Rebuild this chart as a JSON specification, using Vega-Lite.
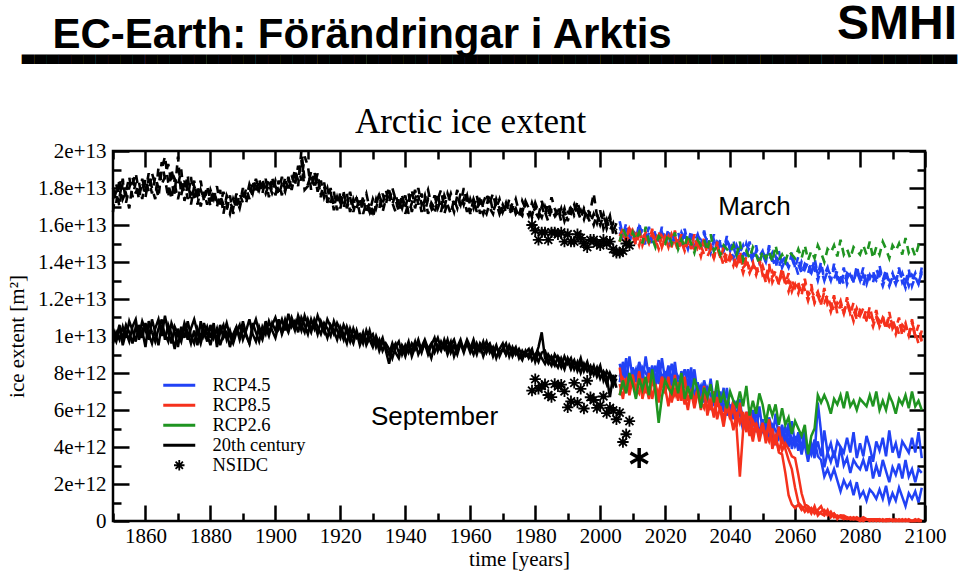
{
"$schema":"https://vega.github.io/schema/vega-lite/v6.json",
"width":812,"height":370,
"autosize":"none",
"padding":{"left":113,"top":151,"right":35,"bottom":51},
"background":"white",
"title":{"text":"SMHI","subtitle":"▄▄▄▄▄▄▄▄▄▄▄▄▄▄▄▄▄▄▄▄▄▄▄▄▄▄▄▄▄▄▄▄▄▄▄▄▄▄▄▄▄▄▄▄▄▄▄▄▄▄▄▄▄▄▄▄▄▄▄▄▄▄▄▄▄▄▄▄▄▄▄▄▄▄▄▄","anchor":"end","frame":"group","dx":32,"offset":-50,"font":"Liberation Sans","fontSize":48,"fontWeight":"bold","color":"black","subtitleFont":"DejaVu Sans","subtitleFontSize":16,"subtitleColor":"black","subtitlePadding":-2},
"datasets":{
"keys":[
{"k":"S1","sc":"20th century","mo":"Sep"},{"k":"S2","sc":"20th century","mo":"Sep"},{"k":"S3","sc":"20th century","mo":"Sep"},
{"k":"M1","sc":"20th century","mo":"Mar"},{"k":"M2","sc":"20th century","mo":"Mar"},{"k":"M3","sc":"20th century","mo":"Mar"},
{"k":"B1","sc":"RCP4.5","mo":"Sep"},{"k":"B2","sc":"RCP4.5","mo":"Sep"},{"k":"B3","sc":"RCP4.5","mo":"Sep"},
{"k":"R1","sc":"RCP8.5","mo":"Sep"},{"k":"R2","sc":"RCP8.5","mo":"Sep"},{"k":"R3","sc":"RCP8.5","mo":"Sep"},
{"k":"G","sc":"RCP2.6","mo":"Sep"},
{"k":"b1","sc":"RCP4.5","mo":"Mar"},{"k":"b2","sc":"RCP4.5","mo":"Mar"},{"k":"b3","sc":"RCP4.5","mo":"Mar"},
{"k":"r1","sc":"RCP8.5","mo":"Mar"},{"k":"r2","sc":"RCP8.5","mo":"Mar"},{"k":"r3","sc":"RCP8.5","mo":"Mar"},
{"k":"g","sc":"RCP2.6","mo":"Mar"}],
"notes":[{"t":2047.5,"v":17.0,"label":"March"},{"t":1949,"v":5.6,"label":"September"}],
"nsidc":[
{"t":1979,"S":7.05,"M":16.0},{"t":1980,"S":7.67,"M":15.7},{"t":1981,"S":7.14,"M":15.2},{"t":1982,"S":7.3,"M":15.6},{"t":1983,"S":7.39,"M":15.6},{"t":1984,"S":6.81,"M":15.2},{"t":1985,"S":6.7,"M":15.6},{"t":1986,"S":7.41,"M":15.6},{"t":1987,"S":7.28,"M":15.5},{"t":1988,"S":7.37,"M":15.6},{"t":1989,"S":7.01,"M":15.1},{"t":1990,"S":6.14,"M":15.5},{"t":1991,"S":6.47,"M":15.1},{"t":1992,"S":7.47,"M":15.1},{"t":1993,"S":6.4,"M":15.5},{"t":1994,"S":7.14,"M":15.3},{"t":1995,"S":6.08,"M":15.0},{"t":1996,"S":7.58,"M":14.8},{"t":1997,"S":6.69,"M":15.2},{"t":1998,"S":6.54,"M":15.2},{"t":1999,"S":6.12,"M":15.0},{"t":2000,"S":6.25,"M":14.9},{"t":2001,"S":6.73,"M":15.2},{"t":2002,"S":5.83,"M":15.0},{"t":2003,"S":6.12,"M":15.1},{"t":2004,"S":5.98,"M":14.7},{"t":2005,"S":5.5,"M":14.5},{"t":2006,"S":5.86,"M":14.5},{"t":2007,"S":4.27,"M":14.6},{"t":2008,"S":4.69,"M":15.0},{"t":2009,"S":5.4,"M":14.9},{"t":2012,"S":3.4}],
"ice":[
{"t":1850,"S1":10.1,"S2":9.6,"S3":10.4,"M1":16.7,"M2":18.0,"M3":17.4},
{"t":1851,"S1":9.7,"S2":10.2,"S3":9.9,"M1":18.2,"M2":17.2,"M3":17.8},
{"t":1852,"S1":10.4,"S2":9.8,"S3":10.6,"M1":17.5,"M2":18.5,"M3":17.0},
{"t":1853,"S1":9.9,"S2":10.5,"S3":9.5,"M1":18.5,"M2":17.4,"M3":18.3},
{"t":1854,"S1":10.6,"S2":9.9,"S3":10.2,"M1":17.2,"M2":17.8,"M3":17.7},
{"t":1855,"S1":10.2,"S2":10.8,"S3":9.7,"M1":18.0,"M2":18.6,"M3":16.9},
{"t":1856,"S1":9.6,"S2":10.3,"S3":10.5,"M1":18.6,"M2":17.5,"M3":18.2},
{"t":1857,"S1":10.5,"S2":9.7,"S3":10.9,"M1":17.7,"M2":18.3,"M3":18.8},
{"t":1858,"S1":10.0,"S2":10.6,"S3":9.8,"M1":18.3,"M2":17.4,"M3":17.8},
{"t":1859,"S1":10.8,"S2":9.9,"S3":10.3,"M1":17.4,"M2":18.5,"M3":18.3},
{"t":1860,"S1":10.3,"S2":10.7,"S3":9.4,"M1":18.5,"M2":17.8,"M3":17.5},
{"t":1861,"S1":9.8,"S2":10.1,"S3":10.8,"M1":17.8,"M2":18.8,"M3":18.5},
{"t":1862,"S1":10.9,"S2":9.6,"S3":10.2,"M1":18.8,"M2":18.0,"M3":17.7},
{"t":1863,"S1":10.2,"S2":10.4,"S3":9.7,"M1":18.2,"M2":17.4,"M3":18.6},
{"t":1864,"S1":9.5,"S2":10.9,"S3":10.4,"M1":17.5,"M2":19.1,"M3":18.0},
{"t":1865,"S1":10.6,"S2":10.0,"S3":10.9,"M1":19.0,"M2":18.2,"M3":19.4},
{"t":1866,"S1":10.1,"S2":11.1,"S3":9.8,"M1":19.7,"M2":18.6,"M3":18.5},
{"t":1867,"S1":9.7,"S2":10.2,"S3":10.6,"M1":18.3,"M2":19.3,"M3":17.5},
{"t":1868,"S1":10.7,"S2":9.6,"S3":10.1,"M1":17.4,"M2":18.3,"M3":19.0},
{"t":1869,"S1":10.2,"S2":10.5,"S3":9.3,"M1":18.5,"M2":17.7,"M3":18.2},
{"t":1870,"S1":9.4,"S2":10.1,"S3":10.4,"M1":18.1,"M2":19.7,"M3":17.4},
{"t":1871,"S1":10.5,"S2":9.7,"S3":9.9,"M1":19.0,"M2":17.6,"M3":18.2},
{"t":1872,"S1":9.9,"S2":10.6,"S3":10.7,"M1":17.3,"M2":18.4,"M3":17.8},
{"t":1873,"S1":10.8,"S2":9.8,"S3":10.2,"M1":18.2,"M2":17.4,"M3":18.7},
{"t":1874,"S1":10.0,"S2":10.4,"S3":9.6,"M1":17.6,"M2":18.6,"M3":17.1},
{"t":1875,"S1":9.6,"S2":10.9,"S3":10.3,"M1":18.4,"M2":17.3,"M3":18.1},
{"t":1876,"S1":10.4,"S2":10.2,"S3":9.5,"M1":17.1,"M2":18.1,"M3":17.6},
{"t":1877,"S1":9.9,"S2":9.6,"S3":10.8,"M1":17.9,"M2":17.0,"M3":18.4},
{"t":1878,"S1":10.7,"S2":10.3,"S3":10.0,"M1":17.4,"M2":17.8,"M3":17.3},
{"t":1879,"S1":10.1,"S2":9.7,"S3":10.5,"M1":18.1,"M2":17.1,"M3":17.9},
{"t":1880,"S1":9.5,"S2":10.6,"S3":9.9,"M1":17.3,"M2":17.9,"M3":17.0},
{"t":1881,"S1":10.3,"S2":9.9,"S3":10.7,"M1":17.9,"M2":17.4,"M3":17.8},
{"t":1882,"S1":9.8,"S2":10.4,"S3":9.4,"M1":17.0,"M2":18.1,"M3":17.3},
{"t":1883,"S1":10.6,"S2":9.5,"S3":10.2,"M1":17.6,"M2":17.1,"M3":17.9},
{"t":1884,"S1":9.9,"S2":10.1,"S3":10.6,"M1":17.1,"M2":17.8,"M3":16.6},
{"t":1885,"S1":10.2,"S2":10.7,"S3":9.8,"M1":16.8,"M2":17.1,"M3":17.6},
{"t":1886,"S1":9.4,"S2":10.0,"S3":10.3,"M1":17.6,"M2":16.6,"M3":17.2},
{"t":1887,"S1":10.1,"S2":9.6,"S3":9.7,"M1":16.6,"M2":17.4,"M3":16.9},
{"t":1888,"S1":10.5,"S2":10.2,"S3":10.5,"M1":17.4,"M2":16.9,"M3":17.7},
{"t":1889,"S1":9.8,"S2":10.6,"S3":9.9,"M1":16.9,"M2":17.7,"M3":17.1},
{"t":1890,"S1":10.4,"S2":9.8,"S3":10.8,"M1":17.7,"M2":17.2,"M3":18.0},
{"t":1891,"S1":10.0,"S2":10.3,"S3":10.1,"M1":17.2,"M2":18.0,"M3":17.4},
{"t":1892,"S1":9.6,"S2":10.9,"S3":9.6,"M1":18.0,"M2":17.4,"M3":18.2},
{"t":1893,"S1":10.7,"S2":10.1,"S3":10.4,"M1":17.6,"M2":18.4,"M3":17.7},
{"t":1894,"S1":10.2,"S2":9.7,"S3":10.9,"M1":18.4,"M2":17.7,"M3":18.5},
{"t":1895,"S1":9.7,"S2":10.5,"S3":10.2,"M1":17.7,"M2":18.5,"M3":17.9},
{"t":1896,"S1":10.5,"S2":10.0,"S3":9.8,"M1":18.2,"M2":17.7,"M3":18.5},
{"t":1897,"S1":10.1,"S2":10.8,"S3":10.5,"M1":17.7,"M2":18.5,"M3":17.8},
{"t":1898,"S1":10.8,"S2":10.2,"S3":10.0,"M1":18.2,"M2":17.5,"M3":18.5},
{"t":1899,"S1":10.3,"S2":10.6,"S3":10.7,"M1":17.7,"M2":18.6,"M3":17.8},
{"t":1900,"S1":9.9,"S2":11.0,"S3":10.3,"M1":18.1,"M2":17.6,"M3":18.4},
{"t":1901,"S1":10.6,"S2":10.4,"S3":10.9,"M1":17.6,"M2":18.4,"M3":17.8},
{"t":1902,"S1":10.2,"S2":10.9,"S3":10.1,"M1":18.2,"M2":17.6,"M3":18.6},
{"t":1903,"S1":10.9,"S2":10.3,"S3":10.6,"M1":17.8,"M2":18.6,"M3":17.9},
{"t":1904,"S1":10.4,"S2":11.2,"S3":10.2,"M1":18.6,"M2":17.8,"M3":18.4},
{"t":1905,"S1":11.0,"S2":10.5,"S3":10.8,"M1":17.9,"M2":18.7,"M3":18.1},
{"t":1906,"S1":10.5,"S2":10.8,"S3":10.3,"M1":18.7,"M2":18.1,"M3":19.0},
{"t":1907,"S1":10.8,"S2":10.2,"S3":11.1,"M1":18.1,"M2":19.2,"M3":18.4},
{"t":1908,"S1":10.3,"S2":11.0,"S3":10.6,"M1":20.0,"M2":18.4,"M3":19.5},
{"t":1909,"S1":11.1,"S2":10.6,"S3":10.2,"M1":18.4,"M2":19.7,"M3":17.9},
{"t":1910,"S1":10.6,"S2":10.1,"S3":10.9,"M1":18.2,"M2":19.2,"M3":18.1},
{"t":1911,"S1":10.2,"S2":10.9,"S3":10.4,"M1":18.7,"M2":17.9,"M3":18.9},
{"t":1912,"S1":10.9,"S2":10.4,"S3":10.7,"M1":18.1,"M2":18.9,"M3":18.0},
{"t":1913,"S1":10.5,"S2":11.1,"S3":10.1,"M1":18.8,"M2":17.8,"M3":18.6},
{"t":1914,"S1":10.1,"S2":10.6,"S3":10.8,"M1":17.6,"M2":18.4,"M3":17.5},
{"t":1915,"S1":10.7,"S2":10.2,"S3":10.4,"M1":18.3,"M2":17.5,"M3":18.1},
{"t":1916,"S1":10.4,"S2":10.9,"S3":9.9,"M1":17.3,"M2":18.0,"M3":17.2},
{"t":1917,"S1":10.0,"S2":10.5,"S3":10.6,"M1":18.0,"M2":17.2,"M3":17.8},
{"t":1918,"S1":10.8,"S2":10.1,"S3":10.3,"M1":17.0,"M2":17.8,"M3":16.8},
{"t":1919,"S1":10.3,"S2":10.7,"S3":9.8,"M1":17.6,"M2":16.8,"M3":17.5},
{"t":1920,"S1":9.9,"S2":10.3,"S3":10.5,"M1":17.2,"M2":17.8,"M3":16.9},
{"t":1921,"S1":10.6,"S2":9.8,"S3":10.1,"M1":17.8,"M2":16.9,"M3":17.7},
{"t":1922,"S1":10.2,"S2":10.5,"S3":9.6,"M1":16.9,"M2":17.7,"M3":17.0},
{"t":1923,"S1":9.7,"S2":10.0,"S3":10.4,"M1":17.5,"M2":16.7,"M3":17.8},
{"t":1924,"S1":10.4,"S2":9.6,"S3":9.9,"M1":16.7,"M2":17.4,"M3":16.9},
{"t":1925,"S1":9.9,"S2":10.3,"S3":10.2,"M1":17.4,"M2":16.9,"M3":17.5},
{"t":1926,"S1":10.1,"S2":9.7,"S3":9.5,"M1":16.9,"M2":17.5,"M3":16.6},
{"t":1927,"S1":9.6,"S2":10.2,"S3":10.0,"M1":17.5,"M2":16.6,"M3":17.2},
{"t":1928,"S1":10.3,"S2":9.5,"S3":9.7,"M1":16.6,"M2":17.2,"M3":17.7},
{"t":1929,"S1":9.8,"S2":9.9,"S3":10.3,"M1":17.2,"M2":16.7,"M3":16.9},
{"t":1930,"S1":9.4,"S2":10.1,"S3":9.6,"M1":16.7,"M2":17.4,"M3":16.4},
{"t":1931,"S1":10.0,"S2":9.4,"S3":9.9,"M1":17.4,"M2":16.9,"M3":17.1},
{"t":1932,"S1":9.5,"S2":9.8,"S3":9.2,"M1":16.9,"M2":17.6,"M3":17.7},
{"t":1933,"S1":9.9,"S2":9.2,"S3":9.7,"M1":17.7,"M2":17.1,"M3":16.7},
{"t":1934,"S1":9.2,"S2":9.6,"S3":9.4,"M1":17.1,"M2":17.9,"M3":17.4},
{"t":1935,"S1":8.5,"S2":9.3,"S3":9.0,"M1":17.9,"M2":17.2,"M3":18.0},
{"t":1936,"S1":9.3,"S2":8.8,"S3":9.6,"M1":17.2,"M2":18.0,"M3":17.1},
{"t":1937,"S1":9.6,"S2":9.4,"S3":9.1,"M1":16.7,"M2":17.4,"M3":17.7},
{"t":1938,"S1":9.1,"S2":9.7,"S3":8.8,"M1":17.4,"M2":16.7,"M3":16.9},
{"t":1939,"S1":9.4,"S2":9.0,"S3":9.5,"M1":16.9,"M2":17.6,"M3":17.6},
{"t":1940,"S1":8.9,"S2":9.5,"S3":9.2,"M1":17.6,"M2":16.9,"M3":16.6},
{"t":1941,"S1":9.5,"S2":9.1,"S3":9.7,"M1":16.6,"M2":17.7,"M3":17.2},
{"t":1942,"S1":9.2,"S2":9.6,"S3":8.9,"M1":17.2,"M2":16.7,"M3":17.9},
{"t":1943,"S1":9.7,"S2":9.3,"S3":9.4,"M1":17.9,"M2":17.4,"M3":16.9},
{"t":1944,"S1":9.0,"S2":9.8,"S3":9.6,"M1":17.1,"M2":18.0,"M3":17.6},
{"t":1945,"S1":9.4,"S2":9.2,"S3":9.1,"M1":17.7,"M2":17.1,"M3":16.7},
{"t":1946,"S1":9.8,"S2":9.6,"S3":9.7,"M1":16.7,"M2":17.6,"M3":17.4},
{"t":1947,"S1":9.3,"S2":9.0,"S3":9.3,"M1":17.4,"M2":16.6,"M3":17.9},
{"t":1948,"S1":9.6,"S2":9.5,"S3":8.8,"M1":16.9,"M2":17.2,"M3":17.1},
{"t":1949,"S1":9.1,"S2":9.9,"S3":9.5,"M1":17.6,"M2":16.9,"M3":16.6},
{"t":1950,"S1":9.5,"S2":9.2,"S3":9.9,"M1":16.9,"M2":17.7,"M3":17.4},
{"t":1951,"S1":9.2,"S2":9.7,"S3":9.3,"M1":17.4,"M2":16.7,"M3":17.9},
{"t":1952,"S1":9.8,"S2":9.3,"S3":9.6,"M1":16.6,"M2":17.6,"M3":16.9},
{"t":1953,"S1":9.3,"S2":9.8,"S3":9.0,"M1":17.2,"M2":17.1,"M3":17.7},
{"t":1954,"S1":9.7,"S2":9.1,"S3":9.5,"M1":17.7,"M2":16.6,"M3":17.2},
{"t":1955,"S1":8.9,"S2":9.5,"S3":9.8,"M1":17.1,"M2":17.4,"M3":16.7},
{"t":1956,"S1":9.4,"S2":9.0,"S3":9.2,"M1":17.9,"M2":16.9,"M3":17.6},
{"t":1957,"S1":9.8,"S2":9.6,"S3":9.6,"M1":16.9,"M2":17.7,"M3":17.1},
{"t":1958,"S1":9.2,"S2":9.3,"S3":9.1,"M1":17.4,"M2":17.1,"M3":18.0},
{"t":1959,"S1":9.6,"S2":9.8,"S3":9.7,"M1":16.7,"M2":17.6,"M3":17.2},
{"t":1960,"S1":9.1,"S2":9.4,"S3":9.3,"M1":17.4,"M2":16.7,"M3":16.6},
{"t":1961,"S1":9.5,"S2":9.0,"S3":9.8,"M1":16.9,"M2":17.4,"M3":17.4},
{"t":1962,"S1":9.0,"S2":9.6,"S3":9.2,"M1":17.6,"M2":16.9,"M3":16.7},
{"t":1963,"S1":9.6,"S2":9.2,"S3":9.5,"M1":16.6,"M2":17.2,"M3":17.6},
{"t":1964,"S1":9.3,"S2":9.7,"S3":8.9,"M1":17.2,"M2":16.6,"M3":16.9},
{"t":1965,"S1":9.7,"S2":9.1,"S3":9.4,"M1":17.7,"M2":17.1,"M3":16.6},
{"t":1966,"S1":9.1,"S2":9.5,"S3":9.6,"M1":16.9,"M2":17.6,"M3":17.2},
{"t":1967,"S1":9.4,"S2":8.9,"S3":9.1,"M1":16.6,"M2":16.7,"M3":17.7},
{"t":1968,"S1":8.8,"S2":9.4,"S3":9.5,"M1":17.4,"M2":17.2,"M3":16.9},
{"t":1969,"S1":9.3,"S2":9.1,"S3":8.9,"M1":16.9,"M2":16.6,"M3":17.4},
{"t":1970,"S1":9.6,"S2":9.3,"S3":9.3,"M1":16.6,"M2":17.1,"M3":16.7},
{"t":1971,"S1":9.0,"S2":9.6,"S3":9.0,"M1":17.1,"M2":16.7,"M3":17.2},
{"t":1972,"S1":9.4,"S2":8.9,"S3":9.5,"M1":16.7,"M2":17.4,"M3":16.6},
{"t":1973,"S1":8.9,"S2":9.4,"S3":9.1,"M1":17.2,"M2":16.6,"M3":16.9},
{"t":1974,"S1":9.3,"S2":9.0,"S3":9.4,"M1":16.6,"M2":16.9,"M3":17.4},
{"t":1975,"S1":9.0,"S2":9.3,"S3":8.8,"M1":16.9,"M2":16.4,"M3":16.7},
{"t":1976,"S1":8.7,"S2":8.9,"S3":9.2,"M1":16.7,"M2":17.3,"M3":16.5},
{"t":1977,"S1":9.2,"S2":9.1,"S3":8.9,"M1":17.3,"M2":16.9,"M3":17.2},
{"t":1978,"S1":8.8,"S2":9.3,"S3":9.0,"M1":16.9,"M2":16.5,"M3":16.9},
{"t":1979,"S1":9.1,"S2":8.7,"S3":9.3,"M1":16.5,"M2":17.2,"M3":16.4},
{"t":1980,"S1":8.9,"S2":9.0,"S3":8.6,"M1":17.2,"M2":16.7,"M3":17.0},
{"t":1981,"S1":9.4,"S2":8.6,"S3":9.1,"M1":16.7,"M2":16.4,"M3":16.5},
{"t":1982,"S1":10.2,"S2":9.1,"S3":8.8,"M1":16.4,"M2":17.0,"M3":17.3},
{"t":1983,"S1":8.8,"S2":9.2,"S3":8.5,"M1":17.0,"M2":16.5,"M3":16.7},
{"t":1984,"S1":8.5,"S2":8.7,"S3":9.0,"M1":16.5,"M2":17.2,"M3":16.2},
{"t":1985,"S1":8.9,"S2":8.4,"S3":8.7,"M1":17.5,"M2":16.7,"M3":16.9},
{"t":1986,"S1":8.6,"S2":9.0,"S3":8.4,"M1":16.9,"M2":16.4,"M3":16.5},
{"t":1987,"S1":8.3,"S2":8.7,"S3":8.9,"M1":16.4,"M2":16.9,"M3":17.0},
{"t":1988,"S1":8.8,"S2":8.3,"S3":8.6,"M1":16.9,"M2":16.2,"M3":16.4},
{"t":1989,"S1":8.4,"S2":8.9,"S3":8.2,"M1":16.2,"M2":16.7,"M3":16.9},
{"t":1990,"S1":8.7,"S2":8.5,"S3":8.8,"M1":16.7,"M2":16.4,"M3":16.2},
{"t":1991,"S1":8.2,"S2":8.8,"S3":8.4,"M1":16.6,"M2":17.1,"M3":16.9},
{"t":1992,"S1":8.6,"S2":8.2,"S3":8.7,"M1":17.1,"M2":16.5,"M3":16.6},
{"t":1993,"S1":8.3,"S2":8.6,"S3":8.1,"M1":16.5,"M2":16.8,"M3":17.3},
{"t":1994,"S1":8.8,"S2":8.0,"S3":8.5,"M1":16.8,"M2":16.3,"M3":16.5},
{"t":1995,"S1":8.1,"S2":8.5,"S3":8.2,"M1":16.3,"M2":16.9,"M3":16.8},
{"t":1996,"S1":8.5,"S2":8.1,"S3":8.6,"M1":16.9,"M2":16.5,"M3":16.3},
{"t":1997,"S1":8.0,"S2":8.4,"S3":7.9,"M1":16.5,"M2":16.1,"M3":16.8},
{"t":1998,"S1":8.4,"S2":7.9,"S3":8.3,"M1":16.0,"M2":16.6,"M3":17.7},
{"t":1999,"S1":7.8,"S2":8.3,"S3":8.0,"M1":16.6,"M2":16.1,"M3":16.5},
{"t":2000,"S1":8.2,"S2":7.7,"S3":8.4,"M1":16.1,"M2":16.8,"M3":16.0},
{"t":2001,"S1":7.9,"S2":8.1,"S3":7.6,"M1":16.6,"M2":15.8,"M3":16.5},
{"t":2002,"S1":7.4,"S2":7.8,"S3":8.1,"M1":15.8,"M2":16.3,"M3":16.0},
{"t":2003,"S1":8.0,"S2":6.7,"S3":7.8,"M1":16.3,"M2":15.7,"M3":16.5},
{"t":2004,"S1":7.6,"S2":7.9,"S3":7.3,"M1":15.7,"M2":16.1,"M3":15.5},
{"t":2005,"S1":7.9,"S2":7.2,"S3":7.7,"M1":16.1,"M2":15.5,"M3":15.8},
{"t":2006,"B1":7.8,"B2":7.5,"B3":8.5,"R1":7.4,"R2":6.8,"R3":8.3,"G":6.8,"b1":15.9,"b2":15.6,"b3":16.2,"r1":15.1,"r2":15.4,"r3":15.1,"g":15.1},
{"t":2007,"B1":8.5,"B2":8.6,"B3":7.7,"R1":6.6,"R2":7.7,"R3":7.1,"G":7.6,"b1":15.4,"b2":15.1,"b3":15.4,"r1":15.6,"r2":15.8,"r3":15.7,"g":15.8},
{"t":2008,"B1":7.5,"B2":8.0,"B3":8.8,"R1":7.7,"R2":7.4,"R3":7.6,"G":6.9,"b1":16.1,"b2":15.8,"b3":15.7,"r1":15.1,"r2":15.1,"r3":15.4,"g":15.4},
{"t":2009,"B1":8.9,"B2":7.2,"B3":7.4,"R1":7.2,"R2":7.1,"R3":6.8,"G":8.0,"b1":15.1,"b2":15.4,"b3":15.1,"r1":15.8,"r2":16.0,"r3":15.2,"g":14.9},
{"t":2010,"B1":7.7,"B2":8.3,"B3":8.2,"R1":7.9,"R2":7.9,"R3":7.7,"G":7.4,"b1":15.6,"b2":15.8,"b3":15.7,"r1":15.4,"r2":15.2,"r3":15.7,"g":15.6},
{"t":2011,"B1":8.2,"B2":7.8,"B3":7.5,"R1":6.7,"R2":6.9,"R3":7.2,"G":6.6,"b1":15.2,"b2":15.2,"b3":15.5,"r1":14.9,"r2":15.5,"r3":15.2,"g":15.2},
{"t":2012,"B1":7.4,"B2":8.5,"B3":8.6,"R1":8.1,"R2":8.0,"R3":6.9,"G":7.7,"b1":15.9,"b2":16.1,"b3":15.3,"r1":15.5,"r2":14.9,"r3":15.8,"g":15.6},
{"t":2013,"B1":8.3,"B2":7.5,"B3":8.0,"R1":6.9,"R2":6.6,"R3":7.7,"G":7.1,"b1":15.5,"b2":15.3,"b3":15.8,"r1":15.2,"r2":15.5,"r3":14.9,"g":15.0},
{"t":2014,"B1":8.0,"B2":8.9,"B3":7.2,"R1":7.4,"R2":7.4,"R3":6.9,"G":7.8,"b1":14.9,"b2":15.5,"b3":15.2,"r1":15.6,"r2":15.3,"r3":15.4,"g":15.9},
{"t":2015,"B1":7.7,"B2":7.7,"B3":8.3,"R1":6.6,"R2":6.7,"R3":8.0,"G":6.8,"b1":15.6,"b2":15.0,"b3":15.9,"r1":15.0,"r2":15.1,"r3":15.0,"g":15.1},
{"t":2016,"B1":8.4,"B2":8.1,"B3":7.7,"R1":7.5,"R2":7.8,"R3":6.6,"G":8.2,"b1":15.3,"b2":15.6,"b3":15.0,"r1":15.8,"r2":15.5,"r3":15.6,"g":15.3},
{"t":2017,"B1":7.6,"B2":7.3,"B3":8.4,"R1":7.2,"R2":7.2,"R3":7.4,"G":7.0,"b1":15.7,"b2":15.4,"b3":15.5,"r1":15.0,"r2":15.0,"r3":15.2,"g":14.8},
{"t":2018,"B1":8.7,"B2":8.2,"B3":7.4,"R1":6.9,"R2":6.4,"R3":6.7,"G":5.3,"b1":15.1,"b2":15.2,"b3":15.1,"r1":15.3,"r2":15.7,"r3":14.7,"g":15.4},
{"t":2019,"B1":7.3,"B2":7.9,"B3":8.8,"R1":7.7,"R2":7.5,"R3":7.8,"G":6.7,"b1":15.9,"b2":15.6,"b3":15.7,"r1":14.8,"r2":14.8,"r3":15.4,"g":15.2},
{"t":2020,"B1":8.1,"B2":7.6,"B3":7.6,"R1":6.9,"R2":7.0,"R3":7.2,"G":7.6,"b1":15.1,"b2":15.1,"b3":15.3,"r1":15.4,"r2":15.3,"r3":15.1,"g":15.0},
{"t":2021,"B1":7.4,"B2":8.4,"B3":8.1,"R1":7.8,"R2":7.5,"R3":6.2,"G":7.2,"b1":15.4,"b2":15.8,"b3":14.8,"r1":15.1,"r2":14.8,"r3":15.4,"g":15.5},
{"t":2022,"B1":8.5,"B2":7.6,"B3":7.3,"R1":6.4,"R2":6.5,"R3":7.3,"G":6.9,"b1":14.9,"b2":14.9,"b3":15.5,"r1":14.9,"r2":15.5,"r3":14.8,"g":15.0},
{"t":2023,"B1":7.8,"B2":8.6,"B3":8.1,"R1":7.2,"R2":7.9,"R3":6.8,"G":7.7,"b1":15.5,"b2":15.4,"b3":15.2,"r1":15.4,"r2":15.1,"r3":15.7,"g":15.6},
{"t":2024,"B1":7.0,"B2":7.2,"B3":7.8,"R1":6.5,"R2":6.7,"R3":7.5,"G":6.9,"b1":15.3,"b2":15.0,"b3":15.6,"r1":14.9,"r2":14.6,"r3":14.9,"g":14.7},
{"t":2025,"B1":8.1,"B2":8.0,"B3":7.5,"R1":7.6,"R2":7.2,"R3":6.5,"G":8.0,"b1":15.0,"b2":15.6,"b3":14.9,"r1":15.5,"r2":15.2,"r3":15.1,"g":15.2},
{"t":2026,"B1":7.5,"B2":7.2,"B3":8.2,"R1":6.9,"R2":6.3,"R3":7.8,"G":6.6,"b1":15.5,"b2":15.2,"b3":15.8,"r1":14.6,"r2":14.9,"r3":14.6,"g":14.8},
{"t":2027,"B1":8.1,"B2":8.2,"B3":7.3,"R1":6.0,"R2":7.1,"R3":6.5,"G":7.3,"b1":15.0,"b2":14.7,"b3":15.0,"r1":15.1,"r2":15.3,"r3":15.2,"g":15.5},
{"t":2028,"B1":7.0,"B2":7.5,"B3":8.3,"R1":7.1,"R2":6.8,"R3":7.0,"G":6.6,"b1":15.7,"b2":15.4,"b3":15.3,"r1":14.7,"r2":14.7,"r3":15.0,"g":15.0},
{"t":2029,"B1":8.2,"B2":6.5,"B3":6.7,"R1":6.5,"R2":6.4,"R3":6.1,"G":7.7,"b1":14.8,"b2":15.1,"b3":14.8,"r1":15.3,"r2":15.5,"r3":14.7,"g":14.5},
{"t":2030,"B1":6.9,"B2":7.5,"B3":7.4,"R1":7.1,"R2":7.1,"R3":6.9,"G":7.1,"b1":15.3,"b2":15.5,"b3":15.4,"r1":14.9,"r2":14.7,"r3":15.2,"g":15.2},
{"t":2031,"B1":7.3,"B2":6.9,"B3":6.6,"R1":6.0,"R2":6.2,"R3":6.5,"G":6.1,"b1":14.9,"b2":14.9,"b3":15.2,"r1":14.3,"r2":14.9,"r3":14.6,"g":14.9},
{"t":2032,"B1":6.4,"B2":7.5,"B3":7.6,"R1":7.3,"R2":7.2,"R3":6.1,"G":7.2,"b1":15.5,"b2":15.7,"b3":14.9,"r1":15.0,"r2":14.4,"r3":15.3,"g":15.2},
{"t":2033,"B1":7.2,"B2":6.4,"B3":6.9,"R1":6.0,"R2":5.7,"R3":6.8,"G":6.7,"b1":15.1,"b2":14.9,"b3":15.4,"r1":14.6,"r2":14.9,"r3":14.3,"g":14.6},
{"t":2034,"B1":6.8,"B2":7.7,"B3":6.0,"R1":6.5,"R2":6.5,"R3":6.0,"G":7.4,"b1":14.5,"b2":15.1,"b3":14.8,"r1":14.9,"r2":14.6,"r3":14.7,"g":15.5},
{"t":2035,"B1":6.4,"B2":6.4,"B3":7.0,"R1":5.6,"R2":5.7,"R3":7.0,"G":6.4,"b1":15.2,"b2":14.6,"b3":15.5,"r1":14.2,"r2":14.3,"r3":14.2,"g":14.6},
{"t":2036,"B1":7.1,"B2":6.8,"B3":6.4,"R1":6.4,"R2":6.7,"R3":5.5,"G":7.6,"b1":14.8,"b2":15.1,"b3":14.5,"r1":15.1,"r2":14.8,"r3":14.9,"g":14.9},
{"t":2037,"B1":6.2,"B2":5.9,"B3":7.0,"R1":6.0,"R2":6.0,"R3":6.2,"G":6.4,"b1":15.2,"b2":14.9,"b3":15.0,"r1":14.2,"r2":14.2,"r3":14.4,"g":14.4},
{"t":2038,"B1":7.2,"B2":6.7,"B3":5.9,"R1":5.6,"R2":5.1,"R3":5.4,"G":6.9,"b1":14.6,"b2":14.7,"b3":14.6,"r1":14.4,"r2":14.8,"r3":13.8,"g":14.9},
{"t":2039,"B1":5.7,"B2":6.3,"B3":7.2,"R1":6.4,"R2":6.2,"R3":6.5,"G":6.1,"b1":15.4,"b2":15.1,"b3":15.2,"r1":13.9,"r2":13.9,"r3":14.5,"g":14.7},
{"t":2040,"B1":6.3,"B2":5.8,"B3":5.8,"R1":5.5,"R2":5.6,"R3":5.8,"G":7.0,"b1":14.6,"b2":14.6,"b3":14.8,"r1":14.4,"r2":14.3,"r3":14.1,"g":14.5},
{"t":2041,"B1":5.5,"B2":6.5,"B3":6.2,"R1":6.5,"R2":6.2,"R3":4.9,"G":6.5,"b1":14.8,"b2":15.2,"b3":14.2,"r1":14.1,"r2":13.8,"r3":14.4,"g":14.9},
{"t":2042,"B1":6.5,"B2":5.6,"B3":5.3,"R1":5.0,"R2":5.1,"R3":5.9,"G":6.2,"b1":14.3,"b2":14.3,"b3":14.9,"r1":13.8,"r2":14.4,"r3":13.7,"g":14.4},
{"t":2043,"B1":5.8,"B2":6.6,"B3":6.1,"R1":2.4,"R2":6.4,"R3":5.3,"G":7.0,"b1":14.8,"b2":14.7,"b3":14.5,"r1":14.3,"r2":14.0,"r3":14.6,"g":15.1},
{"t":2044,"B1":4.9,"B2":5.1,"B3":5.7,"R1":4.9,"R2":5.1,"R3":5.9,"G":6.2,"b1":14.6,"b2":14.3,"b3":14.9,"r1":13.7,"r2":13.4,"r3":13.7,"g":14.1},
{"t":2045,"B1":5.9,"B2":5.8,"B3":5.3,"R1":5.9,"R2":5.5,"R3":4.8,"G":7.3,"b1":14.4,"b2":15.0,"b3":14.3,"r1":14.3,"r2":14.0,"r3":13.9,"g":14.6},
{"t":2046,"B1":5.3,"B2":5.0,"B3":6.0,"R1":5.2,"R2":4.6,"R3":6.1,"G":5.7,"b1":14.8,"b2":14.5,"b3":15.1,"r1":13.4,"r2":13.7,"r3":13.4,"g":14.2},
{"t":2047,"B1":5.9,"B2":6.0,"B3":5.1,"R1":4.3,"R2":5.4,"R3":4.8,"G":6.5,"b1":14.3,"b2":14.0,"b3":14.3,"r1":13.8,"r2":14.0,"r3":13.9,"g":14.8},
{"t":2048,"B1":4.8,"B2":5.3,"B3":6.1,"R1":5.3,"R2":5.0,"R3":5.2,"G":5.8,"b1":14.9,"b2":14.6,"b3":14.5,"r1":13.3,"r2":13.3,"r3":13.6,"g":14.4},
{"t":2049,"B1":6.2,"B2":4.5,"B3":4.7,"R1":4.7,"R2":4.6,"R3":4.3,"G":6.9,"b1":14.0,"b2":14.3,"b3":14.0,"r1":14.0,"r2":14.2,"r3":13.4,"g":13.9},
{"t":2050,"B1":4.9,"B2":5.5,"B3":5.4,"R1":5.3,"R2":5.3,"R3":5.1,"G":6.3,"b1":14.4,"b2":14.6,"b3":14.5,"r1":13.5,"r2":13.3,"r3":13.8,"g":14.6},
{"t":2051,"B1":5.3,"B2":4.9,"B3":4.6,"R1":4.2,"R2":4.4,"R3":4.7,"G":5.3,"b1":14.0,"b2":14.0,"b3":14.3,"r1":12.9,"r2":13.5,"r3":13.2,"g":14.2},
{"t":2052,"B1":4.4,"B2":5.5,"B3":5.6,"R1":5.5,"R2":5.4,"R3":4.3,"G":6.3,"b1":14.7,"b2":14.9,"b3":14.1,"r1":13.6,"r2":13.0,"r3":13.9,"g":14.6},
{"t":2053,"B1":5.2,"B2":4.4,"B3":4.9,"R1":4.2,"R2":3.9,"R3":5.0,"G":5.7,"b1":14.2,"b2":14.0,"b3":14.5,"r1":13.2,"r2":13.5,"r3":12.9,"g":14.0},
{"t":2054,"B1":4.9,"B2":5.8,"B3":4.1,"R1":4.6,"R2":4.6,"R3":4.1,"G":6.3,"b1":13.7,"b2":14.3,"b3":14.0,"r1":13.5,"r2":13.2,"r3":13.3,"g":14.9},
{"t":2055,"B1":4.5,"B2":4.5,"B3":5.1,"R1":3.7,"R2":3.8,"R3":5.1,"G":5.2,"b1":14.3,"b2":13.7,"b3":14.6,"r1":12.8,"r2":12.9,"r3":12.8,"g":14.1},
{"t":2056,"B1":5.2,"B2":4.9,"B3":4.5,"R1":3.6,"R2":4.4,"R3":3.8,"G":6.1,"b1":14.0,"b2":14.3,"b3":13.7,"r1":13.7,"r2":13.4,"r3":13.5,"g":14.4},
{"t":2057,"B1":4.3,"B2":4.0,"B3":5.1,"R1":2.6,"R2":3.9,"R3":4.2,"G":5.2,"b1":14.3,"b2":14.0,"b3":14.1,"r1":12.8,"r2":12.8,"r3":13.0,"g":14.0},
{"t":2058,"B1":5.3,"B2":4.8,"B3":4.0,"R1":1.4,"R2":3.3,"R3":3.9,"G":5.6,"b1":13.7,"b2":13.8,"b3":13.7,"r1":13.0,"r2":13.4,"r3":12.4,"g":14.6},
{"t":2059,"B1":3.9,"B2":4.5,"B3":5.4,"R1":0.9,"R2":2.8,"R3":3.5,"G":4.7,"b1":14.5,"b2":14.2,"b3":14.3,"r1":12.4,"r2":12.4,"r3":13.0,"g":14.4},
{"t":2060,"B1":4.6,"B2":4.1,"B3":4.1,"R1":0.7,"R2":1.8,"R3":3.4,"G":5.4,"b1":13.7,"b2":13.7,"b3":13.9,"r1":12.9,"r2":12.8,"r3":12.6,"g":14.2},
{"t":2061,"B1":3.8,"B2":4.8,"B3":4.5,"R1":0.9,"R2":1.0,"R3":2.5,"G":5.0,"b1":13.9,"b2":14.3,"b3":13.3,"r1":12.6,"r2":12.3,"r3":12.9,"g":14.7},
{"t":2062,"B1":4.8,"B2":3.9,"B3":3.6,"R1":0.6,"R2":0.8,"R3":1.5,"G":4.6,"b1":13.4,"b2":13.4,"b3":14.0,"r1":12.3,"r2":12.9,"r3":12.2,"g":14.2},
{"t":2063,"B1":4.1,"B2":4.9,"B3":4.4,"R1":0.8,"R2":0.5,"R3":0.9,"G":5.2,"b1":13.9,"b2":13.8,"b3":13.6,"r1":12.8,"r2":12.5,"r3":13.1,"g":14.9},
{"t":2064,"B1":3.2,"B2":3.4,"B3":4.0,"R1":0.5,"R2":0.7,"R3":0.8,"G":3.6,"b1":13.7,"b2":13.4,"b3":14.0,"r1":12.2,"r2":11.9,"r3":12.2,"g":14.1},
{"t":2065,"B1":4.2,"B2":4.1,"B3":3.6,"R1":0.7,"R2":0.4,"R3":0.6,"G":4.6,"b1":13.4,"b2":14.0,"b3":13.3,"r1":12.8,"r2":12.5,"r3":12.4,"g":14.6},
{"t":2066,"B1":3.7,"B2":3.4,"B3":4.4,"R1":0.4,"R2":0.8,"R3":0.6,"G":5.0,"b1":13.9,"b2":13.6,"b3":14.2,"r1":11.8,"r2":12.1,"r3":11.8,"g":14.2},
{"t":2067,"B1":4.3,"B2":6.4,"B3":3.5,"R1":0.6,"R2":0.3,"R3":0.5,"G":6.8,"b1":13.3,"b2":13.0,"b3":13.3,"r1":12.2,"r2":12.4,"r3":12.3,"g":14.9},
{"t":2068,"B1":3.5,"B2":4.8,"B3":3.3,"R1":0.8,"R2":0.5,"R3":0.4,"G":6.4,"b1":14.0,"b2":13.7,"b3":13.6,"r1":11.7,"r2":11.7,"r3":12.0,"g":14.5},
{"t":2069,"B1":4.9,"B2":2.9,"B3":2.4,"R1":0.4,"R2":0.6,"R3":0.3,"G":6.8,"b1":13.0,"b2":13.3,"b3":13.0,"r1":12.4,"r2":12.6,"r3":11.8,"g":14.0},
{"t":2070,"B1":3.7,"B2":3.7,"B3":2.8,"R1":0.5,"R2":0.3,"R3":0.6,"G":6.4,"b1":13.5,"b2":13.7,"b3":13.6,"r1":11.9,"r2":11.7,"r3":12.2,"g":14.7},
{"t":2071,"B1":4.2,"B2":3.2,"B3":2.3,"R1":0.3,"R2":0.5,"R3":0.2,"G":5.8,"b1":13.0,"b2":13.0,"b3":13.3,"r1":11.3,"r2":11.9,"r3":11.6,"g":14.5},
{"t":2072,"B1":3.4,"B2":3.8,"B3":2.8,"R1":0.4,"R2":0.2,"R3":0.4,"G":6.6,"b1":13.7,"b2":13.9,"b3":13.1,"r1":11.9,"r2":11.3,"r3":12.2,"g":14.9},
{"t":2073,"B1":4.3,"B2":2.9,"B3":2.2,"R1":0.2,"R2":0.3,"R3":0.1,"G":6.3,"b1":13.3,"b2":13.1,"b3":13.5,"r1":11.5,"r2":11.8,"r3":11.2,"g":14.3},
{"t":2074,"B1":4.0,"B2":4.0,"B3":1.6,"R1":0.3,"R2":0.2,"R3":0.3,"G":6.8,"b1":12.7,"b2":13.3,"b3":13.0,"r1":11.9,"r2":11.6,"r3":11.7,"g":15.2},
{"t":2075,"B1":3.7,"B2":3.0,"B3":2.2,"R1":0.2,"R2":0.1,"R3":0.3,"G":6.1,"b1":13.4,"b2":12.8,"b3":13.7,"r1":11.2,"r2":11.3,"r3":11.2,"g":14.4},
{"t":2076,"B1":4.5,"B2":3.4,"B3":1.8,"R1":0.1,"R2":0.2,"R3":0.2,"G":7.0,"b1":13.1,"b2":13.4,"b3":12.8,"r1":12.1,"r2":11.8,"r3":11.9,"g":14.7},
{"t":2077,"B1":3.7,"B2":2.6,"B3":2.1,"R1":0.2,"R2":0.1,"R3":0.1,"G":6.2,"b1":13.5,"b2":13.2,"b3":13.3,"r1":11.2,"r2":11.2,"r3":11.4,"g":14.2},
{"t":2078,"B1":4.8,"B2":3.3,"B3":1.4,"R1":0.1,"R2":0.2,"R3":0.1,"G":6.5,"b1":12.9,"b2":13.0,"b3":12.9,"r1":11.4,"r2":11.8,"r3":10.8,"g":14.8},
{"t":2079,"B1":3.4,"B2":3.0,"B3":2.1,"R1":0.1,"R2":0.1,"R3":0.2,"G":6.0,"b1":13.8,"b2":13.5,"b3":13.6,"r1":10.9,"r2":10.9,"r3":11.5,"g":14.6},
{"t":2080,"B1":4.2,"B2":2.8,"B3":1.3,"R1":0.1,"R2":0.0,"R3":0.1,"G":6.6,"b1":13.0,"b2":13.0,"b3":13.2,"r1":11.4,"r2":11.3,"r3":11.1,"g":14.4},
{"t":2081,"B1":3.5,"B2":3.3,"B3":1.6,"R1":0.2,"R2":0.1,"R3":0.0,"G":6.4,"b1":13.3,"b2":13.7,"b3":12.7,"r1":11.2,"r2":10.9,"r3":11.5,"g":14.9},
{"t":2082,"B1":4.6,"B2":2.7,"B3":1.1,"R1":0.1,"R2":0.1,"R3":0.1,"G":6.2,"b1":12.8,"b2":12.8,"b3":13.4,"r1":10.9,"r2":11.5,"r3":10.8,"g":14.4},
{"t":2083,"B1":4.0,"B2":3.5,"B3":1.7,"R1":0.0,"R2":0.1,"R3":0.1,"G":6.8,"b1":13.4,"b2":13.3,"b3":13.1,"r1":11.3,"r2":11.0,"r3":11.6,"g":15.1},
{"t":2084,"B1":3.2,"B2":2.3,"B3":1.5,"R1":0.1,"R2":0.0,"R3":0.1,"G":6.2,"b1":13.2,"b2":12.9,"b3":13.5,"r1":10.8,"r2":10.5,"r3":10.8,"g":14.2},
{"t":2085,"B1":4.3,"B2":3.0,"B3":1.2,"R1":0.1,"R2":0.1,"R3":0.0,"G":7.0,"b1":13.0,"b2":13.6,"b3":12.9,"r1":11.4,"r2":11.1,"r3":11.0,"g":14.8},
{"t":2086,"B1":3.8,"B2":2.4,"B3":1.7,"R1":0.0,"R2":0.1,"R3":0.1,"G":6.0,"b1":13.5,"b2":13.2,"b3":13.8,"r1":10.5,"r2":10.8,"r3":10.5,"g":14.4},
{"t":2087,"B1":4.5,"B2":3.3,"B3":1.2,"R1":0.1,"R2":0.0,"R3":0.0,"G":6.5,"b1":13.0,"b2":12.7,"b3":13.0,"r1":10.9,"r2":11.1,"r3":11.0,"g":15.1},
{"t":2088,"B1":3.5,"B2":2.7,"B3":1.9,"R1":0.0,"R2":0.1,"R3":0.0,"G":6.0,"b1":13.6,"b2":13.3,"b3":13.2,"r1":10.4,"r2":10.4,"r3":10.7,"g":14.7},
{"t":2089,"B1":4.9,"B2":2.1,"B3":1.0,"R1":0.1,"R2":0.1,"R3":0.0,"G":6.8,"b1":12.7,"b2":13.0,"b3":12.7,"r1":11.1,"r2":11.3,"r3":10.5,"g":14.2},
{"t":2090,"B1":3.7,"B2":2.9,"B3":1.5,"R1":0.0,"R2":0.0,"R3":0.1,"G":6.4,"b1":13.2,"b2":13.4,"b3":13.3,"r1":10.6,"r2":10.4,"r3":10.9,"g":14.9},
{"t":2091,"B1":4.2,"B2":2.5,"B3":1.1,"R1":0.1,"R2":0.0,"R3":0.0,"G":5.8,"b1":12.8,"b2":12.8,"b3":13.1,"r1":10.1,"r2":10.7,"r3":10.4,"g":14.6},
{"t":2092,"B1":3.4,"B2":3.1,"B3":1.8,"R1":0.0,"R2":0.1,"R3":0.0,"G":6.6,"b1":13.5,"b2":13.7,"b3":12.9,"r1":10.7,"r2":10.1,"r3":11.0,"g":15.0},
{"t":2093,"B1":4.3,"B2":2.3,"B3":1.3,"R1":0.0,"R2":0.0,"R3":0.1,"G":6.3,"b1":13.1,"b2":12.9,"b3":13.4,"r1":10.3,"r2":10.6,"r3":10.0,"g":14.4},
{"t":2094,"B1":4.0,"B2":3.3,"B3":0.8,"R1":0.1,"R2":0.0,"R3":0.0,"G":6.8,"b1":12.6,"b2":13.2,"b3":12.9,"r1":10.7,"r2":10.4,"r3":10.5,"g":15.3},
{"t":2095,"B1":3.7,"B2":2.4,"B3":1.5,"R1":0.0,"R2":0.1,"R3":0.0,"G":6.1,"b1":13.3,"b2":12.7,"b3":13.6,"r1":10.0,"r2":10.1,"r3":10.0,"g":14.5},
{"t":2096,"B1":4.5,"B2":2.8,"B3":1.2,"R1":0.0,"R2":0.0,"R3":0.0,"G":7.0,"b1":13.0,"b2":13.3,"b3":12.7,"r1":10.9,"r2":10.6,"r3":10.7,"g":14.8},
{"t":2097,"B1":3.7,"B2":2.1,"B3":1.6,"R1":0.1,"R2":0.0,"R3":0.0,"G":6.2,"b1":13.4,"b2":13.1,"b3":13.2,"r1":10.0,"r2":10.0,"r3":10.2,"g":14.3},
{"t":2098,"B1":4.8,"B2":2.8,"B3":1.0,"R1":0.0,"R2":0.0,"R3":0.1,"G":6.5,"b1":12.8,"b2":12.9,"b3":12.8,"r1":10.2,"r2":10.6,"r3":9.6,"g":14.9},
{"t":2099,"B1":3.4,"B2":2.6,"B3":1.8,"R1":0.0,"R2":0.0,"R3":0.0,"G":6.0,"b1":13.7,"b2":13.4,"b3":13.5,"r1":9.7,"r2":9.7,"r3":10.3,"g":14.7}
]},
"layer":[
{"data":{"name":"ice"},
 "transform":[
  {"fold":["S1","S2","S3","M1","M2","M3","B1","B2","B3","R1","R2","R3","G","b1","b2","b3","r1","r2","r3","g"],"as":["k","v"]},
  {"filter":"isValid(datum.v)"},
  {"lookup":"k","from":{"data":{"name":"keys"},"key":"k","fields":["sc","mo"]}},
  {"filter":"datum.mo == 'Sep'"}],
 "mark":{"type":"line","strokeWidth":2.5},
 "encoding":{
  "x":{"field":"t","type":"quantitative","scale":{"domain":[1850,2100],"nice":false,"zero":false},
   "axis":{"orient":"bottom","values":[1850,1860,1870,1880,1890,1900,1910,1920,1930,1940,1950,1960,1970,1980,1990,2000,2010,2020,2030,2040,2050,2060,2070,2080,2090,2100],
    "format":"d","labelExpr":"datum.value % 20 == 0 ? datum.label : ''","labelFlush":false,"labelOverlap":false,
    "grid":true,"gridColor":"black","gridWidth":2.5,"gridOpacity":1,
    "gridDash":{"condition":{"test":"datum.value % 20 == 0","value":[16,338,16,0]},"value":[8,354,8,0]},
    "ticks":false,"domain":false,"labelFont":"Liberation Serif","labelFontSize":21,"labelColor":"black","labelPadding":4,
    "title":"time [years]","titleFont":"Liberation Serif","titleFontSize":21,"titleFontWeight":"normal","titleColor":"black","titlePadding":2}},
  "y":{"field":"v","type":"quantitative","scale":{"domain":[0,20],"nice":false,"zero":true},
   "axis":{"orient":"left","values":[0,1,2,3,4,5,6,7,8,9,10,11,12,13,14,15,16,17,18,19,20],
    "labelExpr":"datum.value == 0 ? '0' : (datum.value % 2 != 0 ? '' : (datum.value >= 10 ? (datum.value / 10) + 'e+13' : datum.value + 'e+12'))",
    "labelFlush":false,"labelOverlap":false,
    "grid":true,"gridColor":"black","gridWidth":2.5,"gridOpacity":1,
    "gridDash":{"condition":{"test":"datum.value % 2 == 0","value":[16,780,16,0]},"value":[8,796,8,0]},
    "ticks":false,"domain":false,"labelFont":"Liberation Serif","labelFontSize":21,"labelColor":"black","labelPadding":7,
    "title":"ice extent [m²]","titleFont":"Liberation Serif","titleFontSize":21,"titleFontWeight":"normal","titleColor":"black","titlePadding":10}},
  "color":{"field":"sc","type":"nominal",
   "scale":{"domain":["RCP4.5","RCP8.5","RCP2.6","20th century","NSIDC"],"range":["#2142f5","#f5311c","#1f9421","#000000","#000000"]},
   "legend":{"orient":"none","legendX":57,"legendY":225,"title":null,"padding":0,
    "labelFont":"Liberation Serif","labelFontSize":18.5,"labelColor":"black","labelOffset":24,"rowPadding":1,
    "symbolType":"stroke","symbolSize":1024,"symbolStrokeWidth":3,
    "encode":{"symbols":{"update":{
      "shape":{"signal":"datum.value === 'NSIDC' ? 'M-1,0L1,0M0,-1L0,1M-0.7,-0.7L0.7,0.7M-0.7,0.7L0.7,-0.7' : 'stroke'"},
      "size":{"signal":"datum.value === 'NSIDC' ? 110 : 1024"},
      "strokeWidth":{"signal":"datum.value === 'NSIDC' ? 1.8 : 3"},
      "strokeDash":{"value":[1,0]}}}}}},
  "detail":{"field":"k"}}},
{"data":{"name":"ice"},
 "transform":[
  {"fold":["S1","S2","S3","M1","M2","M3","B1","B2","B3","R1","R2","R3","G","b1","b2","b3","r1","r2","r3","g"],"as":["k","v"]},
  {"filter":"isValid(datum.v)"},
  {"lookup":"k","from":{"data":{"name":"keys"},"key":"k","fields":["sc","mo"]}},
  {"filter":"datum.mo == 'Mar'"}],
 "mark":{"type":"line","strokeWidth":2.6,"strokeDash":[8,6]},
 "encoding":{
  "x":{"field":"t","type":"quantitative",
   "axis":{"orient":"top","labels":false,"ticks":false,"domain":false,"grid":false,
    "title":"Arctic ice extent","titleFont":"Liberation Serif","titleFontSize":35,"titleFontWeight":"normal","titleColor":"black",
    "titleX":357,"titleY":-19,"titleAlign":"center","titleAnchor":"start","titleBaseline":"alphabetic"}},
  "y":{"field":"v","type":"quantitative",
   "axis":{"orient":"right","labels":false,"ticks":false,"domain":false,"grid":false,
    "title":"EC-Earth: Förändringar i Arktis","titleFont":"Liberation Sans","titleFontSize":42,"titleFontWeight":"bold","titleColor":"black",
    "titleAngle":0,"titleX":-873,"titleY":-104,"titleAlign":"left","titleAnchor":"start","titleBaseline":"alphabetic"}},
  "color":{"field":"sc","type":"nominal","legend":null},
  "detail":{"field":"k"}}},
{"data":{"name":"nsidc"},
 "transform":[{"filter":"datum.t != 2012"},{"fold":["S","M"],"as":["k","v"]},{"filter":"isValid(datum.v)"}],
 "mark":{"type":"point","shape":"M-1,0L1,0M0,-1L0,1M-0.7,-0.7L0.7,0.7M-0.7,0.7L0.7,-0.7","size":130,"strokeWidth":1.8,"filled":false,"opacity":1},
 "encoding":{
  "x":{"field":"t","type":"quantitative","axis":null},
  "y":{"field":"v","type":"quantitative","axis":null},
  "color":{"datum":"NSIDC","legend":null}}},
{"data":{"name":"nsidc"},
 "transform":[{"filter":"datum.t == 2012"}],
 "mark":{"type":"point","shape":"M0,-1L0,1M-0.87,-0.5L0.87,0.5M-0.87,0.5L0.87,-0.5","size":400,"strokeWidth":3.5,"filled":false,"opacity":1},
 "encoding":{
  "x":{"field":"t","type":"quantitative","axis":null},
  "y":{"field":"S","type":"quantitative","axis":null},
  "color":{"datum":"NSIDC","legend":null}}},
{"data":{"name":"notes"},
 "mark":{"type":"text","font":"Liberation Sans","fontSize":26,"align":"center","baseline":"middle","color":"black"},
 "encoding":{
  "x":{"field":"t","type":"quantitative","axis":null},
  "y":{"field":"v","type":"quantitative","axis":null},
  "text":{"field":"label"}}}
],
"resolve":{"axis":{"x":"independent","y":"independent"}},
"config":{"view":{"stroke":"black","strokeWidth":2.5},"text":{"color":"black"}}
}
